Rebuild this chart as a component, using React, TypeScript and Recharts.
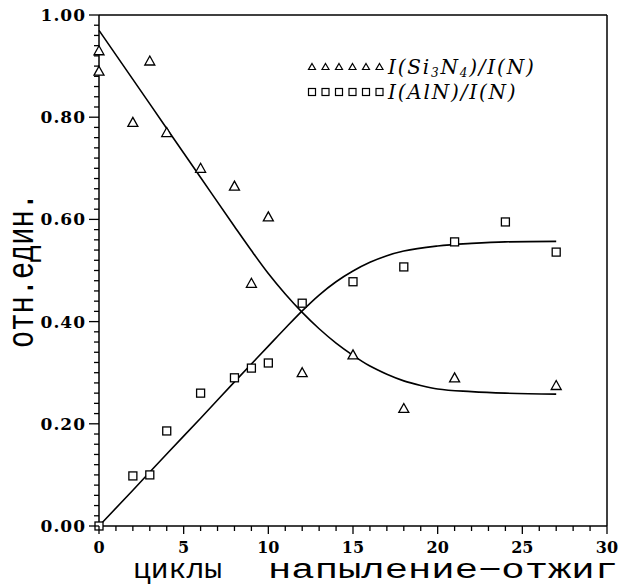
import { ComposedChart, Line, Scatter, XAxis, YAxis, Legend, ReferenceLine } from 'recharts';

// measured points
const siX = [0, 0, 2, 3, 4, 6, 8, 9, 10, 12, 15, 18, 21, 27];
const siVals = [0.93, 0.89, 0.79, 0.91, 0.77, 0.7, 0.665, 0.475, 0.605, 0.3, 0.335, 0.23, 0.29, 0.275];
const alnX = [0, 2, 3, 4, 6, 8, 9, 10, 12, 15, 18, 21, 24, 27];
const alnVals = [0, 0.098, 0.1, 0.186, 0.26, 0.29, 0.309, 0.319, 0.436, 0.478, 0.507, 0.556, 0.595, 0.536];

// fitted curves
const siFitX = [0, 2, 4, 6, 8, 9, 10, 11, 12, 13, 14, 15, 16, 17, 18, 19, 20, 22, 24, 27];
const siFitY = [0.97, 0.874, 0.778, 0.682, 0.586, 0.539, 0.494, 0.454, 0.418, 0.386, 0.358, 0.334, 0.313, 0.297, 0.284, 0.275, 0.268, 0.263, 0.26, 0.258];
const alnFitX = [0, 2, 4, 6, 8, 10, 11, 12, 13, 14, 15, 16, 17, 18, 20, 22, 24, 27];
const alnFitY = [0, 0.07, 0.141, 0.211, 0.282, 0.352, 0.387, 0.421, 0.452, 0.478, 0.499, 0.516, 0.529, 0.538, 0.548, 0.553, 0.556, 0.557];

const xTicks = Array.from({ length: 31 }, (_, i) => i);
const yTicks = Array.from({ length: 51 }, (_, i) => +(i * 0.02).toFixed(2));

const siPts = siX.map((x, i) => ({ x, y: siVals[i] }));
const alnPts = alnX.map((x, i) => ({ x, y: alnVals[i] }));
const siFit = siFitX.map((x, i) => ({ x, y: siFitY[i] }));
const alnFit = alnFitX.map((x, i) => ({ x, y: alnFitY[i] }));

const tickFont = "'DejaVu Serif', serif";
const titleFont = "'Liberation Mono', monospace";

const Triangle = ({ cx, cy }: any) => (
  <path d={`M${cx},${cy - 5} L${cx + 5},${cy + 4} L${cx - 5},${cy + 4} Z`} fill="#fff" stroke="#000" strokeWidth={1.3} />
);
const Square = ({ cx, cy }: any) => (
  <rect x={cx - 4} y={cy - 4} width={8} height={8} fill="#fff" stroke="#000" strokeWidth={1.3} />
);

const XTick = ({ x, y, payload }: any) => {
  const major = payload.value % 5 === 0;
  return (
    <g>
      <line x1={x} x2={x} y1={y} y2={y + (major ? 8 : 5)} stroke="#000" strokeWidth={1.3} />
      {major && (
        <text x={x} y={y + 27} textAnchor="middle" fontFamily={tickFont} fontWeight="bold" fontSize={16}>
          {payload.value}
        </text>
      )}
    </g>
  );
};

const YTick = ({ x, y, payload }: any) => {
  const v = payload.value;
  const major = Math.abs(v * 5 - Math.round(v * 5)) < 1e-6;
  return (
    <g>
      <line x1={x - (major ? 10 : 5)} x2={x} y1={y} y2={y} stroke="#000" strokeWidth={1.3} />
      {major && (
        <text x={x - 13} y={y + 6} textAnchor="end" fontFamily={tickFont} fontWeight="bold" fontSize={17} letterSpacing={1}>
          {v.toFixed(2)}
        </text>
      )}
    </g>
  );
};

const XTitle = () => (
  <g fontFamily={titleFont} fontSize={27}>
    <text x={133} y={578} textLength={89} lengthAdjust="spacingAndGlyphs">циклы</text>
    <text x={268} y={578} textLength={350} lengthAdjust="spacingAndGlyphs">напыление−отжиг</text>
  </g>
);

const YTitle = () => (
  <text
    transform="translate(33,348) rotate(-90)"
    fontFamily={titleFont}
    fontSize={36}
    textLength={155}
    lengthAdjust="spacingAndGlyphs"
  >
    отн.един.
  </text>
);

const subStyle = { fontSize: 12, verticalAlign: '-3px', lineHeight: 0 };

const legendRow = (marker: any, label: any) => (
  <div style={{ display: 'flex', alignItems: 'center', height: 25 }}>
    <svg width={80} height={12} style={{ marginRight: 2 }}>
      {[0, 1, 2, 3, 4, 5].map((i) => (
        <g key={i} transform={`translate(${6 + i * 13.5},6)`}>{marker}</g>
      ))}
    </svg>
    <span style={{ fontFamily: "'DejaVu Serif', serif", fontStyle: 'italic', fontSize: 20, lineHeight: '20px', letterSpacing: 1.8, whiteSpace: 'nowrap' }}>{label}</span>
  </div>
);

const LegendBox = () => (
  <div>
    {legendRow(
      <path d="M0,-3.5 L3.5,2.5 L-3.5,2.5 Z" fill="#fff" stroke="#000" strokeWidth={1.2} />,
      <>I(Si<span style={subStyle}>3</span>N<span style={subStyle}>4</span>)/I(N)</>
    )}
    {legendRow(
      <rect x={-3.5} y={-3.5} width={7} height={7} fill="#fff" stroke="#000" strokeWidth={1.2} />,
      <>I(AlN)/I(N)</>
    )}
  </div>
);

export default function App() {
  return (
    <div style={{ position: 'absolute', left: 0, top: 0, width: 621, height: 587, background: '#fff' }}>
      <ComposedChart width={621} height={587} margin={{ top: 15, right: 14, bottom: 0, left: 0 }}>
        <XAxis
          dataKey="x"
          type="number"
          domain={[0, 30]}
          ticks={xTicks}
          interval={0}
          tickSize={0}
          tickMargin={0}
          tickLine={false}
          tick={<XTick />}
          height={61}
          stroke="#000"
          strokeWidth={1.5}
          label={<XTitle />}
        />
        <YAxis
          type="number"
          domain={[0, 1]}
          ticks={yTicks}
          interval={0}
          tickSize={0}
          tickMargin={0}
          tickLine={false}
          tick={<YTick />}
          width={99}
          stroke="#000"
          strokeWidth={1.5}
          label={<YTitle />}
        />
        <ReferenceLine y={1} stroke="#000" strokeWidth={1.5} />
        <ReferenceLine x={30} stroke="#000" strokeWidth={1.5} />
        <Legend
          layout="horizontal"
          verticalAlign="middle"
          content={<LegendBox />}
          wrapperStyle={{ position: 'absolute', top: 54, left: 306, width: 310 }}
        />
        <Line data={siFit} dataKey="y" type="monotone" stroke="#000" strokeWidth={1.6} dot={false} isAnimationActive={false} legendType="none" />
        <Line data={alnFit} dataKey="y" type="monotone" stroke="#000" strokeWidth={1.6} dot={false} isAnimationActive={false} legendType="none" />
        <Scatter data={siPts} dataKey="y" shape={<Triangle />} isAnimationActive={false} />
        <Scatter data={alnPts} dataKey="y" shape={<Square />} isAnimationActive={false} />
      </ComposedChart>
    </div>
  );
}
